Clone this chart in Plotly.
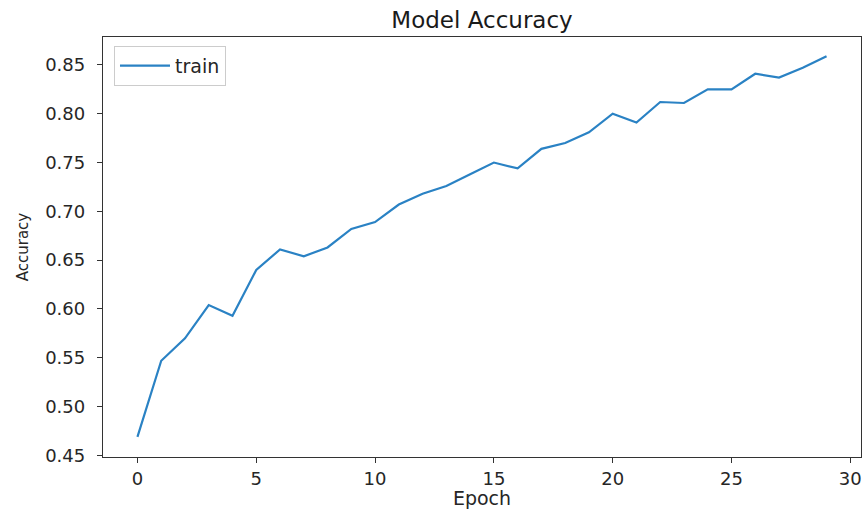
import plotly.graph_objects as go

epochs = list(range(30))
train_acc = [0.469, 0.547, 0.570, 0.604, 0.593, 0.640, 0.661, 0.654, 0.663, 0.682,
             0.689, 0.707, 0.718, 0.726, 0.738, 0.750, 0.744, 0.764, 0.770, 0.781,
             0.800, 0.791, 0.812, 0.811, 0.825, 0.825, 0.841, 0.837, 0.847, 0.859]
x_ticks = [0, 5, 10, 15, 20, 25, 30]
y_ticks = [0.45, 0.50, 0.55, 0.60, 0.65, 0.70, 0.75, 0.80, 0.85]

FONT = "DejaVu Sans"
fig = go.Figure()
fig.add_trace(go.Scatter(x=epochs, y=train_acc, mode="lines", name="train",
                         line=dict(color="#2a82c4", width=2.2)))

axis_common = dict(showline=True, linecolor="#333333", linewidth=1.3, mirror=True,
                   showgrid=False, zeroline=False, ticks="outside", ticklen=5,
                   tickcolor="#333333", tickwidth=1.3, automargin=False,
                   tickfont=dict(family=FONT, size=18, color="#262626"))

fig.update_layout(
    width=863, height=509,
    margin=dict(l=103, r=2, t=37, b=52),
    paper_bgcolor="white", plot_bgcolor="white",
    title=dict(text="Model Accuracy", x=0.5, xref="paper", xanchor="center",
               y=1 - 20 / 509, yref="container", yanchor="middle",
               font=dict(family=FONT, size=23, color="#1a1a1a"), automargin=False),
    xaxis=dict(range=[-1.45, 30.45], tickvals=x_ticks,
               ticktext=[str(v) for v in x_ticks],
               title=dict(text="Epoch", standoff=0,
                          font=dict(family=FONT, size=19, color="#262626")),
               **axis_common),
    yaxis=dict(range=[0.4484, 0.8786], tickvals=y_ticks,
               ticktext=[f"{v:.2f}" for v in y_ticks],
               ticklabelstandoff=8,
               title=dict(text="Accuracy", standoff=12,
                          font=dict(family=FONT, size=15, color="#262626")),
               **axis_common),
    legend=dict(x=0.0145, y=0.979, xanchor="left", yanchor="top",
                bgcolor="rgba(255,255,255,0.8)", bordercolor="#cccccc", borderwidth=1,
                itemwidth=50,
                font=dict(family=FONT, size=19, color="#262626")),
    showlegend=True,
)

fig.write_html("out.html", config={"displayModeBar": False},
               post_script="document.body.style.margin='0';document.body.style.overflow='hidden';")
